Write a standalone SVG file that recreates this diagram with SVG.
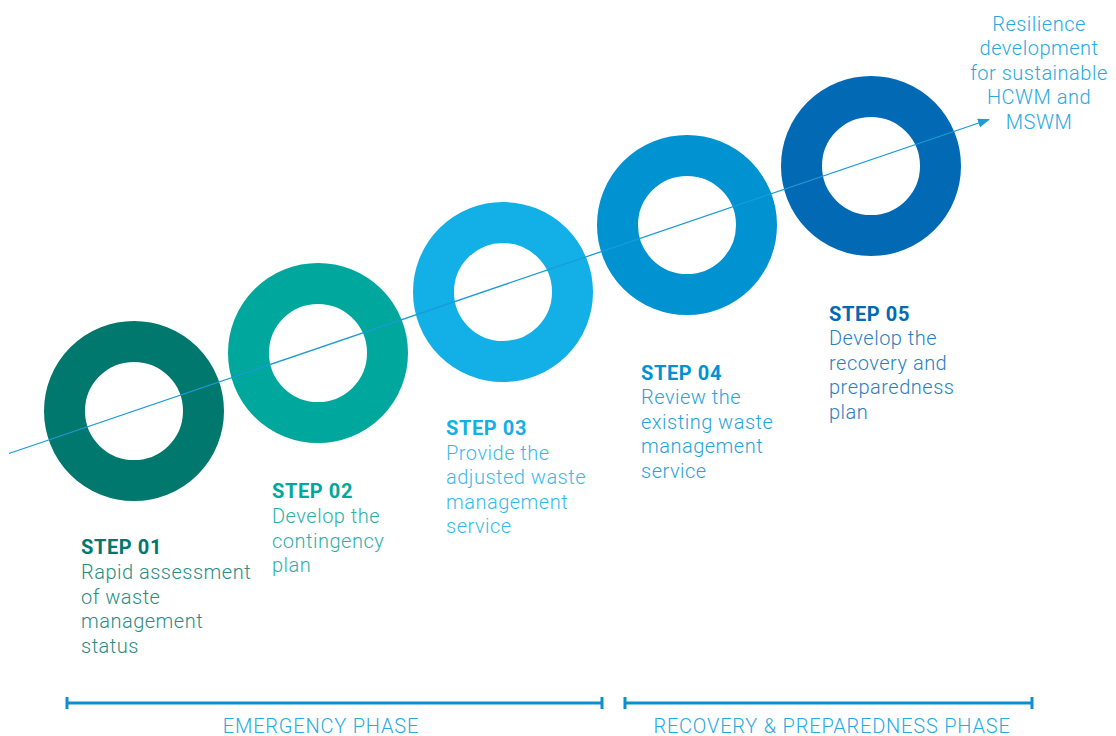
<svg xmlns="http://www.w3.org/2000/svg" width="1116" height="736" viewBox="0 0 1116 736">
<style>
.ring{fill:none;stroke-width:41}
.t{font-family:Roboto,"Liberation Sans",sans-serif;font-size:20px;font-weight:300;letter-spacing:0.5px}
.h{font-family:Roboto,"Liberation Sans",sans-serif;font-size:20px;font-weight:700;letter-spacing:0.6px}
.ph{font-family:Roboto,"Liberation Sans",sans-serif;font-size:20px;font-weight:300;letter-spacing:0.8px;fill:#29A9E1;text-anchor:middle}
.bar{stroke:#0B8FCF;stroke-width:3;fill:none}
</style>
<defs>
<marker id="arr" viewBox="0 0 12 9" refX="11" refY="4.5" markerWidth="12" markerHeight="9" markerUnits="userSpaceOnUse" orient="auto">
<path d="M0,0 L12,4.5 L0,9 z" fill="#1B9AD6"/>
</marker>
</defs>
<rect width="1116" height="736" fill="#fff"/>
<g id="step1">
<circle class="ring" cx="134" cy="411" r="69.5" stroke="#00786E"/>
<text class="h" x="81" y="554" fill="#00786E">STEP 01</text>
<text class="t" fill="#2A8C83"><tspan x="81" y="579">Rapid assessment</tspan><tspan x="81" y="603.5">of waste</tspan><tspan x="81" y="628">management</tspan><tspan x="81" y="652.5">status</tspan></text>
</g>
<g id="step2">
<circle class="ring" cx="318" cy="353" r="69.5" stroke="#00A79D"/>
<text class="h" x="272" y="498" fill="#00A79D">STEP 02</text>
<text class="t" fill="#2CB0A7"><tspan x="272" y="523">Develop the</tspan><tspan x="272" y="547.5">contingency</tspan><tspan x="272" y="572">plan</tspan></text>
</g>
<g id="step3">
<circle class="ring" cx="503" cy="292" r="69.5" stroke="#12B0E6"/>
<text class="h" x="446" y="434.5" fill="#12B0E6">STEP 03</text>
<text class="t" fill="#35BBEA"><tspan x="446" y="459.5">Provide the</tspan><tspan x="446" y="484">adjusted waste</tspan><tspan x="446" y="508.5">management</tspan><tspan x="446" y="533">service</tspan></text>
</g>
<g id="step4">
<circle class="ring" cx="687" cy="225" r="69.5" stroke="#0192D2"/>
<text class="h" x="641" y="379.5" fill="#0192D2">STEP 04</text>
<text class="t" fill="#2AA2DA"><tspan x="641" y="404">Review the</tspan><tspan x="641" y="428.5">existing waste</tspan><tspan x="641" y="453">management</tspan><tspan x="641" y="477.5">service</tspan></text>
</g>
<g id="step5">
<circle class="ring" cx="871" cy="166" r="69.5" stroke="#0269B4"/>
<text class="h" x="829" y="320.5" fill="#0269B4">STEP 05</text>
<text class="t" fill="#2A80C0"><tspan x="829" y="345">Develop the</tspan><tspan x="829" y="369.5">recovery and</tspan><tspan x="829" y="394">preparedness</tspan><tspan x="829" y="418.5">plan</tspan></text>
</g>
<g id="connectors">
<line x1="9" y1="453.5" x2="989" y2="119.5" stroke="#1B9AD6" stroke-width="1.3" marker-end="url(#arr)"/>
</g>
<g id="goal">
<text class="t" fill="#29A9E1" text-anchor="middle"><tspan x="1039" y="30.5">Resilience</tspan><tspan x="1039" y="55">development</tspan><tspan x="1039" y="79.5">for sustainable</tspan><tspan x="1039" y="104">HCWM and</tspan><tspan x="1039" y="128.5">MSWM</tspan></text>
</g>
<g id="phases">
<path class="bar" d="M67,703 H602 M67,697 V709 M602,697 V709"/>
<path class="bar" d="M625,703 H1032 M625,697 V709 M1032,697 V709"/>
<text class="ph" x="321" y="733">EMERGENCY PHASE</text>
<text class="ph" x="832" y="733">RECOVERY &amp; PREPAREDNESS PHASE</text>
</g>
</svg>
